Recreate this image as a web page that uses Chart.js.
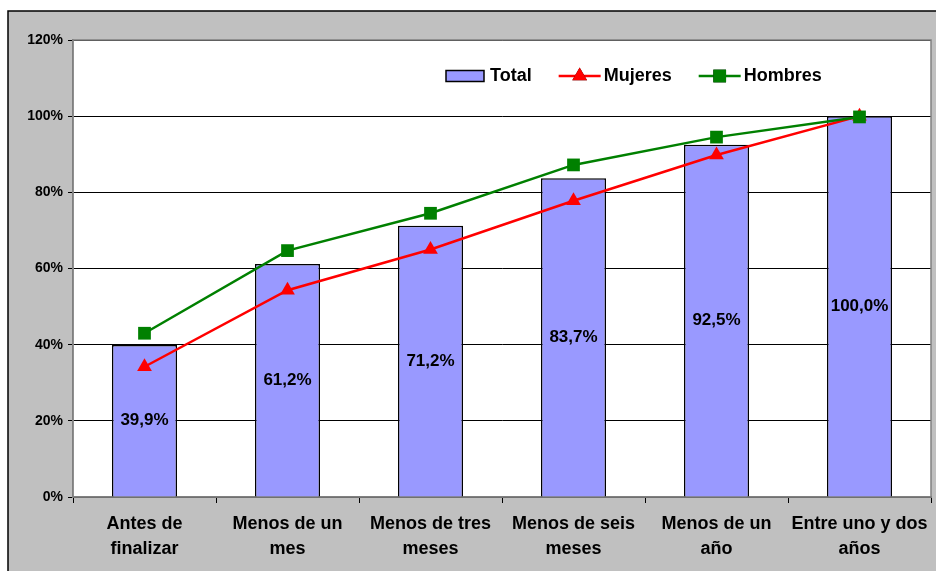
<!DOCTYPE html>
<html>
<head>
  <meta charset="utf-8">
  <title>Porcentaje acumulado</title>
  <script src="https://cdn.jsdelivr.net/npm/chart.js"></script>
  <style>
    body { margin: 0; background: #fff; }
  </style>
</head>
<body>
<canvas id="chart" width="936" height="571"></canvas>

<script>
const categories = [
  ['Antes de', 'finalizar'],
  ['Menos de un', 'mes'],
  ['Menos de tres', 'meses'],
  ['Menos de seis', 'meses'],
  ['Menos de un', 'año'],
  ['Entre uno y dos', 'años']
];
const total = [39.9, 61.2, 71.2, 83.7, 92.5, 100.0];
const mujeres = [34.2, 54.3, 65.0, 77.8, 89.8, 100.0];
const hombres = [43.0, 64.7, 74.5, 87.2, 94.5, 99.8];

const FONT = 'Liberation Sans, Arial, sans-serif';

// grey frame behind the plot, white plot area
const frame = {
  id: 'frame',
  beforeDraw(chart) {
    const ctx = chart.ctx;
    const a = chart.chartArea;
    ctx.save();
    ctx.fillStyle = '#fff';
    ctx.fillRect(0, 0, chart.width, chart.height);
    ctx.fillStyle = '#C0C0C0';
    ctx.fillRect(8, 11, chart.width - 8, chart.height - 11);
    ctx.strokeStyle = '#000';
    ctx.lineWidth = 1.5;
    ctx.beginPath();
    ctx.moveTo(8, chart.height);
    ctx.lineTo(8, 11);
    ctx.lineTo(chart.width, 11);
    ctx.stroke();
    ctx.fillStyle = '#fff';
    ctx.fillRect(a.left, a.top, a.right - a.left, a.bottom - a.top);
    ctx.restore();
  },
  beforeDatasetsDraw(chart) {
    const ctx = chart.ctx;
    const a = chart.chartArea;
    ctx.save();
    ctx.strokeStyle = '#808080';
    ctx.lineWidth = 1.5;
    ctx.strokeRect(a.left, a.top, a.right - a.left, a.bottom - a.top);
    ctx.restore();
  }
};

// value labels centred in the bars
const barLabels = {
  id: 'barLabels',
  afterDatasetsDraw(chart) {
    const ctx = chart.ctx;
    const meta = chart.getDatasetMeta(0);
    ctx.save();
    ctx.font = 'bold 17px ' + FONT;
    ctx.fillStyle = '#000';
    ctx.textAlign = 'center';
    ctx.textBaseline = 'middle';
    meta.data.forEach((bar, i) => {
      const txt = total[i].toFixed(1).replace('.', ',') + '%';
      ctx.fillText(txt, bar.x, (bar.y + bar.base) / 2);
    });
    ctx.restore();
  }
};

// legend drawn inside the plot area
const insideLegend = {
  id: 'insideLegend',
  afterDraw(chart) {
    const ctx = chart.ctx;
    let x = 446;
    const y = 76;
    ctx.save();
    ctx.font = 'bold 18px ' + FONT;
    ctx.textBaseline = 'middle';
    chart.data.datasets.forEach(ds => {
      if (ds.type === 'bar') {
        ctx.fillStyle = ds.backgroundColor;
        ctx.strokeStyle = '#000';
        ctx.lineWidth = 1.5;
        ctx.fillRect(x, y - 5.5, 38, 11);
        ctx.strokeRect(x, y - 5.5, 38, 11);
        x += 44;
      } else {
        ctx.strokeStyle = ds.borderColor;
        ctx.lineWidth = ds.borderWidth;
        ctx.beginPath();
        ctx.moveTo(x, y);
        ctx.lineTo(x + 42, y);
        ctx.stroke();
        Chart.helpers.drawPoint(ctx, {
          pointStyle: ds.pointStyle,
          radius: ds.pointRadius,
          borderWidth: 0
        }, x + 21, y);
        ctx.fillStyle = ds.pointBackgroundColor;
        ctx.fill();
        x += 45;
      }
      ctx.fillStyle = '#000';
      ctx.fillText(ds.label, x, y);
      x += ctx.measureText(ds.label).width + 27;
    });
    ctx.restore();
  }
};

new Chart(document.getElementById('chart'), {
  data: {
    labels: categories,
    datasets: [
      {
        type: 'bar',
        label: 'Total',
        data: total,
        backgroundColor: '#9999FF',
        borderColor: '#000',
        borderWidth: 1.5,
        barPercentage: 0.455,
        categoryPercentage: 1,
        order: 2
      },
      {
        type: 'line',
        label: 'Mujeres',
        data: mujeres,
        borderColor: '#FF0000',
        backgroundColor: '#FF0000',
        pointBackgroundColor: '#FF0000',
        borderWidth: 2.5,
        pointStyle: 'triangle',
        pointRadius: 8.5,
        pointBorderWidth: 0,
        tension: 0,
        order: 1
      },
      {
        type: 'line',
        label: 'Hombres',
        data: hombres,
        borderColor: '#008000',
        backgroundColor: '#008000',
        pointBackgroundColor: '#008000',
        borderWidth: 2.5,
        pointStyle: 'rect',
        pointRadius: 9,
        pointBorderWidth: 0,
        tension: 0,
        order: 0
      }
    ]
  },
  options: {
    responsive: false,
    animation: false,
    layout: { autoPadding: false, padding: { left: 0, right: 5, top: 40, bottom: 0 } },
    plugins: {
      legend: { display: false },
      tooltip: { enabled: false }
    },
    scales: {
      x: {
        afterFit(scale) {
          scale.height = 74;
          scale.paddingLeft = 0;
          scale.paddingRight = 0;
        },
        grid: {
          offset: true,
          drawOnChartArea: false,
          drawTicks: true,
          tickLength: 6,
          color: '#000'
        },
        border: { color: '#808080', width: 1.5 },
        ticks: {
          color: '#000',
          padding: 8,
          maxRotation: 0,
          autoSkip: false,
          font: { family: FONT, size: 18, weight: 'bold', lineHeight: 1.4 }
        }
      },
      y: {
        min: 0,
        max: 120,
        afterFit(scale) { scale.width = 73; },
        grid: {
          color: '#000',
          lineWidth: 1,
          drawTicks: true,
          tickLength: 5
        },
        border: { color: '#808080', width: 1.5 },
        ticks: {
          stepSize: 20,
          color: '#000',
          padding: 5,
          font: { family: FONT, size: 14, weight: 'bold' },
          callback: v => v + '%'
        }
      }
    }
  },
  plugins: [frame, barLabels, insideLegend]
});
</script>
</body>
</html>
